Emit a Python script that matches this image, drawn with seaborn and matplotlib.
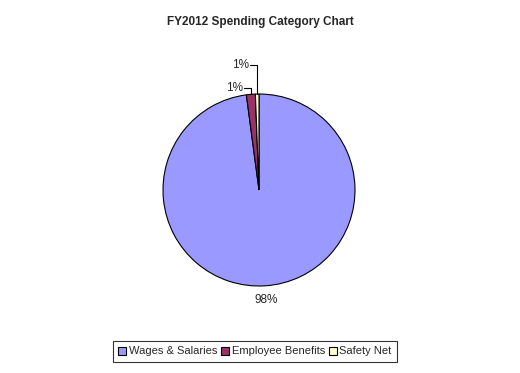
import matplotlib
matplotlib.use("Agg")
import matplotlib.pyplot as plt
import numpy as np
import seaborn as sns

sns.set_style("white")
plt.rcParams["font.family"] = ["Liberation Sans", "DejaVu Sans"]

categories = ["Wages & Salaries", "Employee Benefits", "Safety Net"]
shares = [97.9, 1.5, 0.6]
pct_labels = ["98%", "1%", "1%"]
colors = ["#9999FF", "#993366", "#FFFFCC"]

W, H = 520, 373
cx, cy, r = 259, 190, 96

fig = plt.figure(figsize=(W / 100, H / 100), dpi=100)
fig.patch.set_facecolor("white")
ax = fig.add_axes([(cx - r) / W, (H - cy - r) / H, 2 * r / W, 2 * r / H])

wedges, _ = ax.pie(
    shares,
    colors=colors,
    startangle=90,
    counterclock=False,
    radius=1,
    wedgeprops={"edgecolor": "black", "linewidth": 0.8},
)
ax.set_xlim(-1, 1)
ax.set_ylim(-1, 1)
ax.axis("off")

# mid angles of each wedge
mids = [np.deg2rad((w.theta1 + w.theta2) / 2) for w in wedges]

# big slice: label placed outside at its mid angle
ax.text(1.15 * np.cos(mids[0]), 1.15 * np.sin(mids[0]), pct_labels[0],
        ha="center", va="center", fontsize=8.5)

# small slices: labels with elbow leader lines
label_y = [None, 1.06, 1.30]
for i in (1, 2):
    ax_x, ax_y = np.cos(mids[i]), np.sin(mids[i])
    ly = label_y[i]
    tx = ax_x - 0.07
    ax.plot([tx, ax_x, ax_x], [ly, ly, ax_y], color="black", lw=0.8, clip_on=False)
    ax.text(tx - 0.01, ly, pct_labels[i], ha="right", va="center", fontsize=8.5)

fig.text(0.5, 1 - 22 / H, "FY2012 Spending Category Chart",
         ha="center", va="center", fontsize=8.5, fontweight="bold")

leg = fig.legend(
    wedges, categories, loc="center", bbox_to_anchor=(255 / W, 1 - 351.5 / H),
    ncol=3, fontsize=8, frameon=True, fancybox=False, edgecolor="black",
    handlelength=0.7, handleheight=0.7, handletextpad=0.25, columnspacing=0.35,
    borderpad=0.5, borderaxespad=0,
)
leg.get_frame().set_linewidth(0.8)

fig.savefig("out.png", dpi=100)
